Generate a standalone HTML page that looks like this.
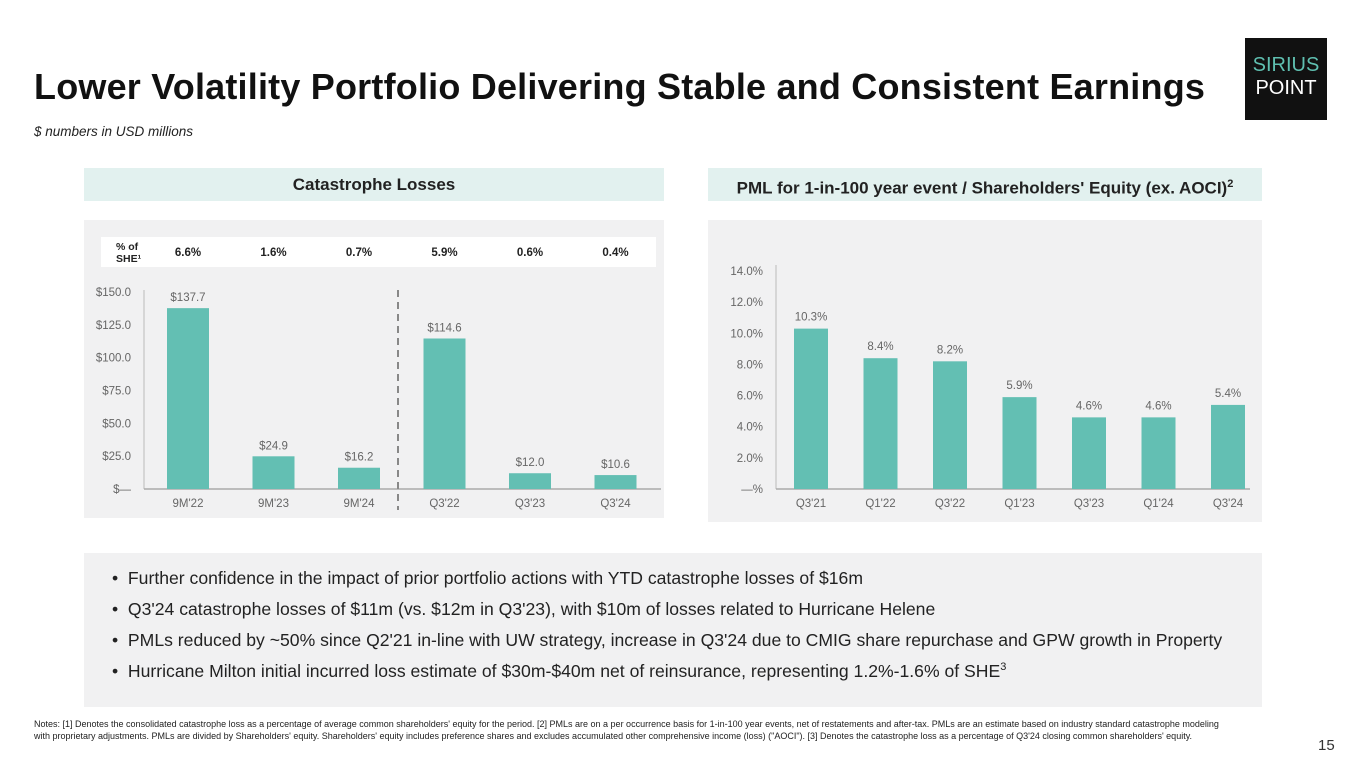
<!DOCTYPE html>
<html><head><meta charset="utf-8"><style>
body{margin:0;width:1365px;height:767px;background:#fff;font-family:"Liberation Sans",sans-serif;position:relative;overflow:hidden}
.abs{position:absolute}
h1{position:absolute;left:34px;top:66px;margin:0;font-size:36px;font-weight:bold;color:#111;letter-spacing:0.2px;white-space:nowrap}
.sub{left:34px;top:124px;font-size:13.5px;font-style:italic;color:#222}
.hdr{background:#e2f1ef;height:33px;top:168px;font-weight:bold;font-size:17px;color:#222;text-align:center;line-height:33px}
.bul{left:84px;top:553px;width:1178px;height:154px;background:#f1f1f2}
.bul div{position:absolute;left:28px;font-size:17.6px;color:#222;white-space:nowrap}
.notes{left:34px;top:719px;width:1200px;font-size:9px;color:#222;line-height:11.5px}
</style></head><body>
<h1>Lower Volatility Portfolio Delivering Stable and Consistent Earnings</h1>
<div class="abs sub">$ numbers in USD millions</div>
<div class="abs" style="left:1245px;top:38px;width:82px;height:82px;background:#111;text-align:center;font-size:20px;line-height:23px;padding-top:16px;box-sizing:border-box;letter-spacing:0px"><span style="color:#5fbfb0">SIRIUS</span><br><span style="color:#fff">POINT</span></div>
<div class="abs hdr" style="left:84px;width:580px">Catastrophe Losses</div>
<div class="abs hdr" style="left:708px;width:554px">PML for 1-in-100 year event / Shareholders' Equity (ex. AOCI)<sup style="font-size:11px">2</sup></div>
<svg class="abs" style="left:0;top:0" width="1365" height="767" id="charts"></svg>
<div class="abs bul">
<div style="top:15px">•&nbsp; Further confidence in the impact of prior portfolio actions with YTD catastrophe losses of $16m</div>
<div style="top:46px">•&nbsp; Q3'24 catastrophe losses of $11m (vs. $12m in Q3'23), with $10m of losses related to Hurricane Helene</div>
<div style="top:77px">•&nbsp; PMLs reduced by ~50% since Q2'21 in-line with UW strategy, increase in Q3'24 due to CMIG share repurchase and GPW growth in Property</div>
<div style="top:108px">•&nbsp; Hurricane Milton initial incurred loss estimate of $30m-$40m net of reinsurance, representing 1.2%-1.6% of SHE<sup style="font-size:11px">3</sup></div>
</div>
<div class="abs notes">Notes: [1] Denotes the consolidated catastrophe loss as a percentage of average common shareholders' equity for the period. [2] PMLs are on a per occurrence basis for 1-in-100 year events, net of restatements and after-tax. PMLs are an estimate based on industry standard catastrophe modeling with proprietary adjustments. PMLs are divided by Shareholders' equity. Shareholders' equity includes preference shares and excludes accumulated other comprehensive income (loss) ("AOCI"). [3] Denotes the catastrophe loss as a percentage of Q3'24 closing common shareholders' equity.</div>
<div class="abs" style="left:1318px;top:737px;font-size:15px;color:#333">15</div>
<script>
const catCats=["9M'22","9M'23","9M'24","Q3'22","Q3'23","Q3'24"];
const catVals=[137.7,24.9,16.2,114.6,12.0,10.6];
const catLabels=["$137.7","$24.9","$16.2","$114.6","$12.0","$10.6"];
const sheVals=["6.6%","1.6%","0.7%","5.9%","0.6%","0.4%"];
const catTicks=[0,25,50,75,100,125,150];
const catTickLabels=["$—","$25.0","$50.0","$75.0","$100.0","$125.0","$150.0"];
const pmlCats=["Q3'21","Q1'22","Q3'22","Q1'23","Q3'23","Q1'24","Q3'24"];
const pmlVals=[10.3,8.4,8.2,5.9,4.6,4.6,5.4];
const pmlTicks=[0,2,4,6,8,10,12,14];
const pmlTickLabels=["—%","2.0%","4.0%","6.0%","8.0%","10.0%","12.0%","14.0%"];
const svg=document.getElementById('charts');const NS="http://www.w3.org/2000/svg";
function mk(t,a,txt){const e=document.createElementNS(NS,t);for(const k in a)e.setAttribute(k,a[k]);if(txt!==undefined)e.textContent=txt;svg.appendChild(e);return e;}
const TEAL="#63bfb3",GR="#666";
let p=mk('rect',{x:84,y:220,width:580,height:298,fill:'#f1f1f2'});


p=mk('rect',{x:708,y:220,width:554,height:302,fill:'#f1f1f2'});


const cy=v=>489-v*(197/150), cx=i=>188+i*85.5;
let r=mk('rect',{x:101,y:237,width:555,height:30,fill:'#fff'});


let t=mk('text',{x:116,y:250,'font-size':10.5,'font-weight':'bold',fill:'#222'},'% of');


mk('text',{x:116,y:262,'font-size':10.5,'font-weight':'bold',fill:'#222'},'SHE¹');
sheVals.forEach((s,i)=>{const e=mk('text',{x:cx(i),y:256,'font-size':11.5,'font-weight':'bold','text-anchor':'middle',fill:'#222'},s);

});
catTicks.forEach((v,i)=>{const e=mk('text',{x:131,y:cy(v)+4,'font-size':11.5,'text-anchor':'end',fill:GR},catTickLabels[i]);

});
mk('line',{x1:144,y1:290,x2:144,y2:489,stroke:'#bbb'});
mk('line',{x1:144,y1:489,x2:661,y2:489,stroke:'#aaa','stroke-width':1.5});
catVals.forEach((v,i)=>{const b=mk('rect',{x:cx(i)-21,y:cy(v),width:42,height:489-cy(v),fill:TEAL});


const l=mk('text',{x:cx(i),y:cy(v)-7,'font-size':11.5,'text-anchor':'middle',fill:GR},catLabels[i]);


const c=mk('text',{x:cx(i),y:507,'font-size':11.5,'text-anchor':'middle',fill:GR},catCats[i]);

});
let d=mk('line',{x1:398,y1:290,x2:398,y2:510,stroke:'#888','stroke-width':2,'stroke-dasharray':'7,5'});


const py=v=>489-v*(218/14), px=i=>811+i*69.5;
pmlTicks.forEach((v,i)=>{const e=mk('text',{x:763,y:py(v)+4,'font-size':11.5,'text-anchor':'end',fill:GR},pmlTickLabels[i]);

});
mk('line',{x1:776,y1:265,x2:776,y2:489,stroke:'#bbb'});
mk('line',{x1:776,y1:489,x2:1250,y2:489,stroke:'#aaa','stroke-width':1.5});
pmlVals.forEach((v,i)=>{const b=mk('rect',{x:px(i)-17,y:py(v),width:34,height:489-py(v),fill:TEAL});


const l=mk('text',{x:px(i),y:py(v)-8,'font-size':11.5,'text-anchor':'middle',fill:GR},v.toFixed(1)+'%');


const c=mk('text',{x:px(i),y:507,'font-size':11.5,'text-anchor':'middle',fill:GR},pmlCats[i]);

});
</script>
</body></html>
